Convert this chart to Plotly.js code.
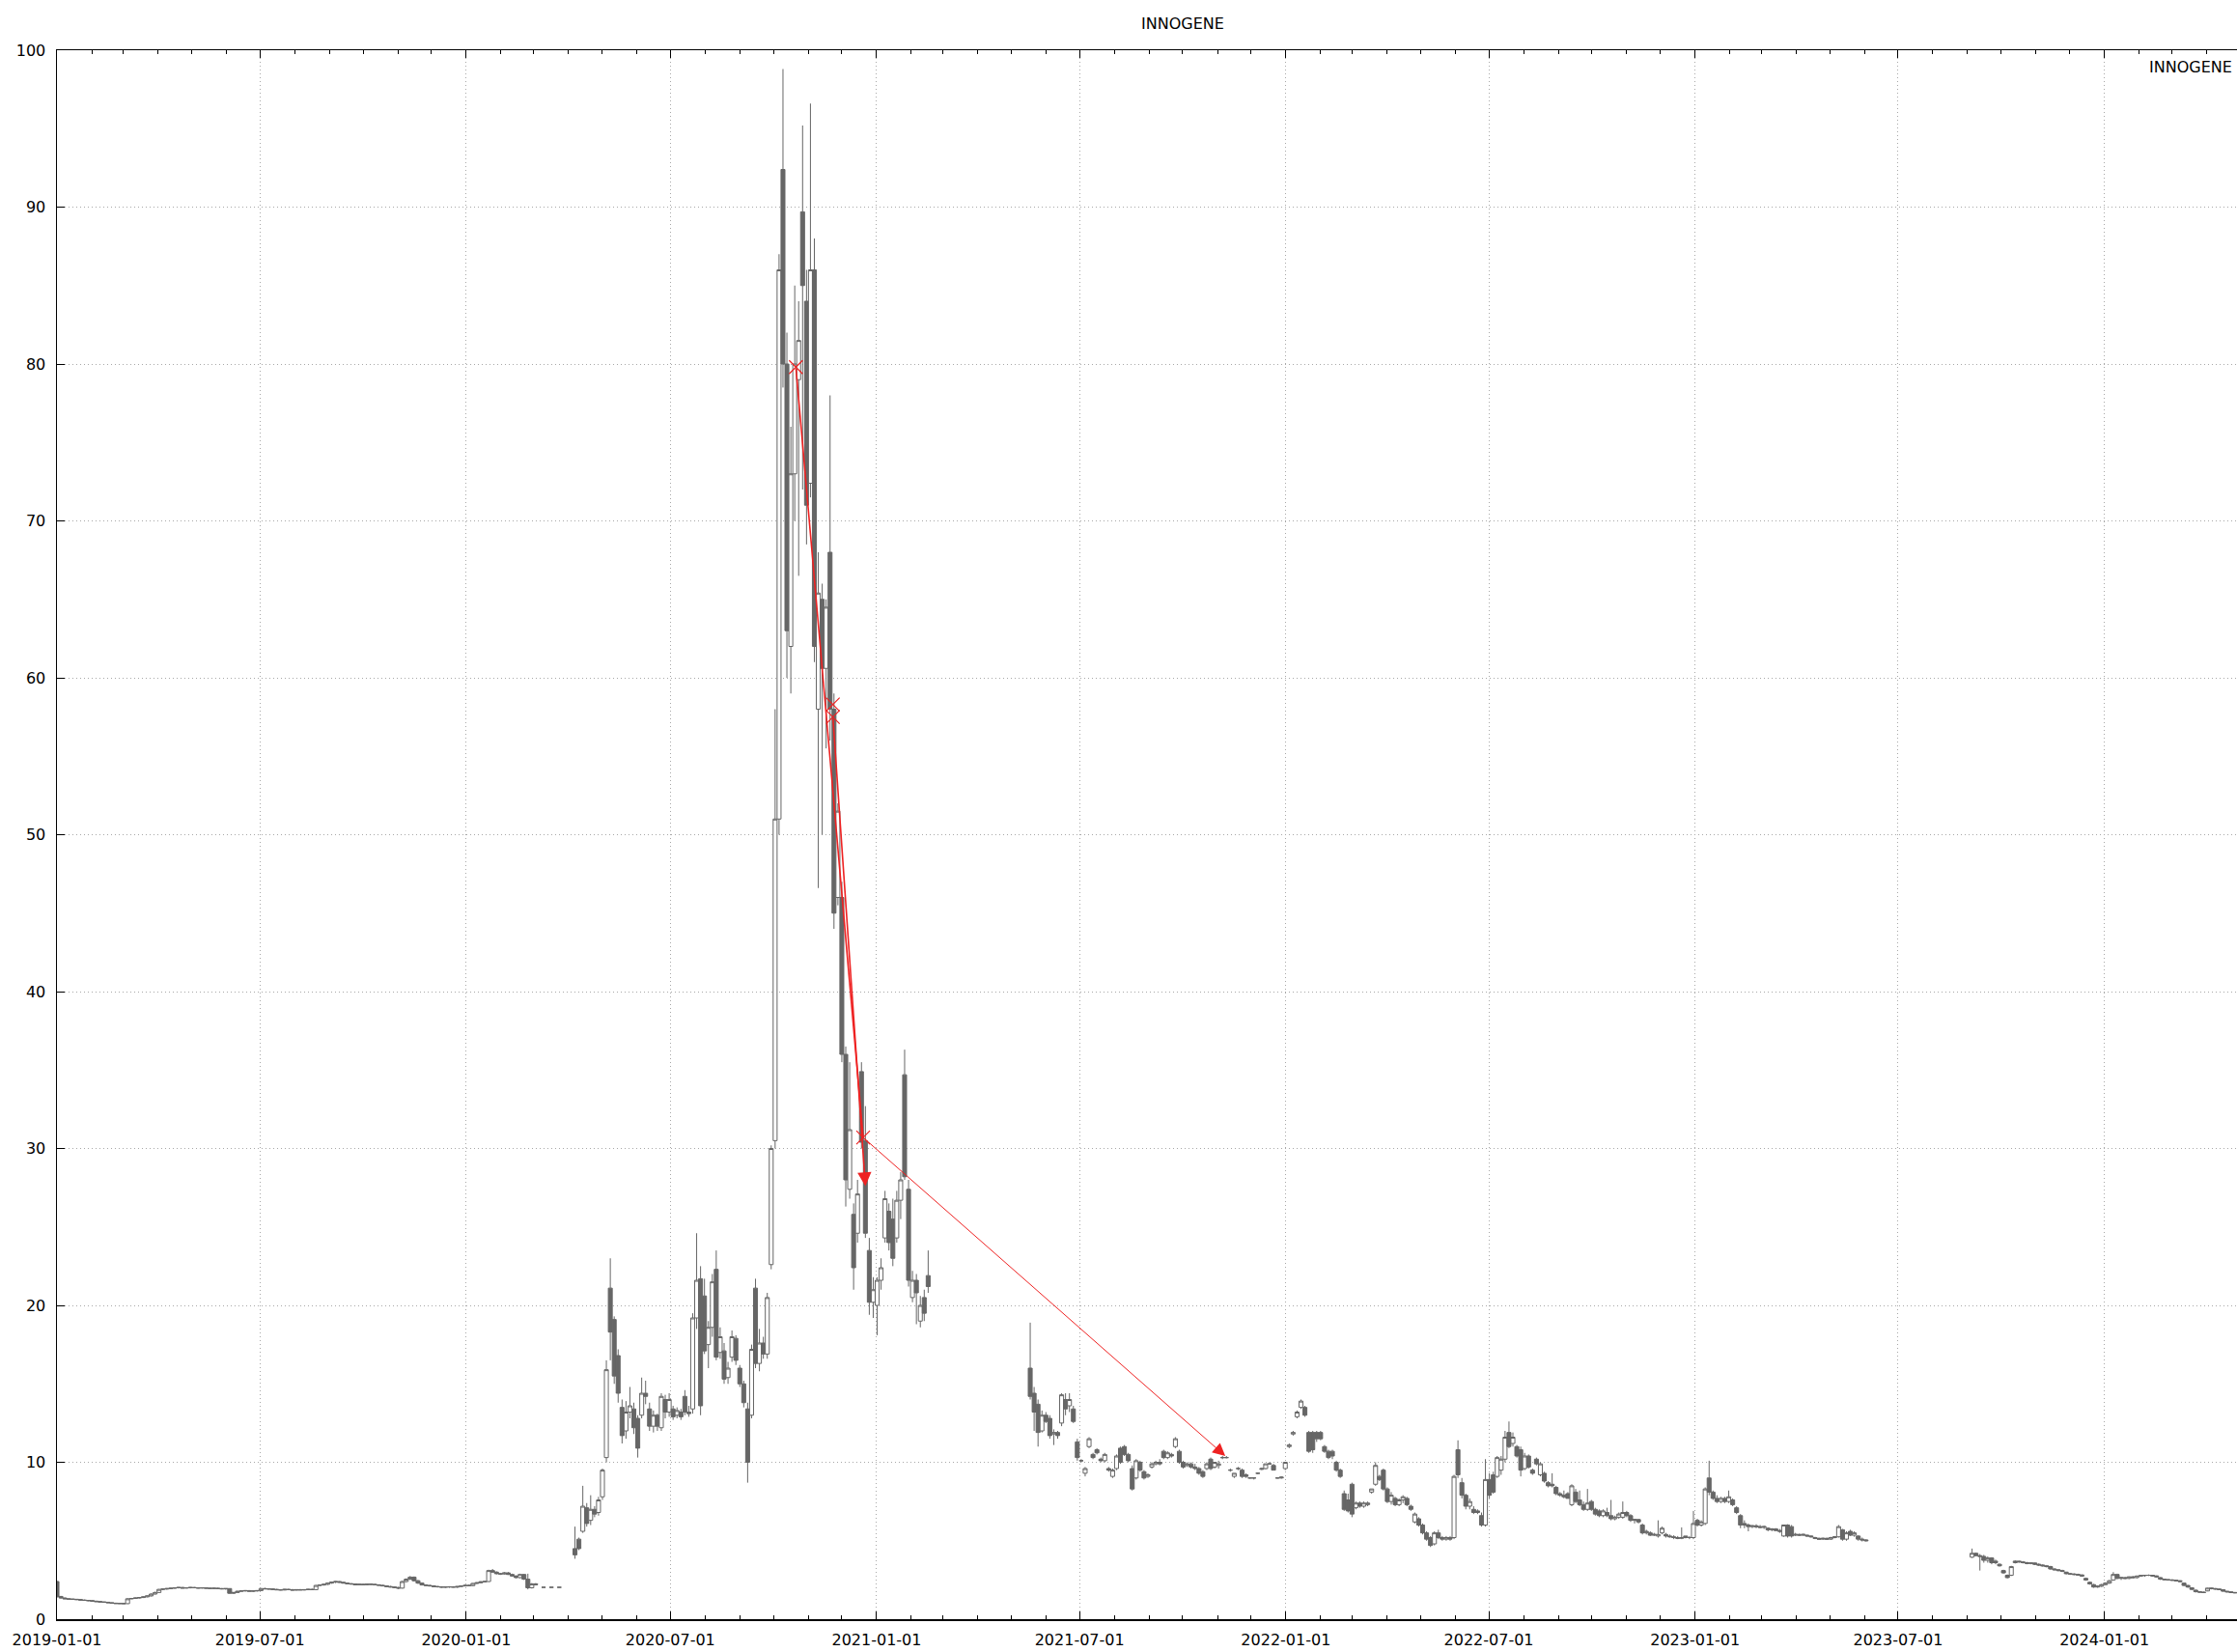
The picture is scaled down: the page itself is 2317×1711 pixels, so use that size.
<!DOCTYPE html>
<html>
<head>
<meta charset="utf-8">
<script src="https://cdn.plot.ly/plotly-3.0.1.min.js"></script>
<style>html,body{margin:0;padding:0;background:#fff;}#chart{width:2317px;height:1711px;}</style>
</head>
<body>
<div id="chart"></div>
<script>
// Half-week candles: [date, open, high, low, close]
const seg2019 = [
["2019-01-01",2.4,2.45,1.35,1.45],["2019-01-04 12:00",1.45,1.48,1.3,1.35],["2019-01-08",1.35,1.38,1.28,1.3],["2019-01-11 12:00",1.3,1.32,1.25,1.28],
["2019-01-15",1.28,1.3,1.24,1.27],["2019-01-18 12:00",1.27,1.29,1.22,1.25],["2019-01-22",1.25,1.27,1.2,1.22],["2019-01-25 12:00",1.22,1.25,1.18,1.2],
["2019-01-29",1.2,1.22,1.15,1.18],["2019-02-01 12:00",1.18,1.2,1.12,1.15],["2019-02-05",1.15,1.17,1.1,1.12],["2019-02-08 12:00",1.12,1.15,1.08,1.1],
["2019-02-12",1.1,1.12,1.05,1.08],["2019-02-15 12:00",1.08,1.1,1.03,1.05],["2019-02-19",1.05,1.07,1.0,1.02],["2019-02-22 12:00",1.02,1.05,0.98,1.0],
["2019-02-26",1.0,1.03,0.97,1.0],["2019-03-01 12:00",1.0,1.02,0.97,0.99],["2019-03-05",0.99,1.35,0.97,1.3],["2019-03-08 12:00",1.3,1.35,1.27,1.32],
["2019-03-12",1.32,1.38,1.3,1.35],["2019-03-15 12:00",1.35,1.4,1.32,1.38],["2019-03-19",1.38,1.45,1.35,1.42],["2019-03-22 12:00",1.42,1.5,1.4,1.48],
["2019-03-26",1.48,1.65,1.45,1.6],["2019-03-29 12:00",1.6,1.75,1.58,1.7],["2019-04-02",1.7,1.92,1.68,1.9],["2019-04-05 12:00",1.9,1.95,1.85,1.92],
["2019-04-09",1.92,1.98,1.88,1.95],["2019-04-12 12:00",1.95,2.0,1.92,1.97],["2019-04-16",1.97,2.02,1.94,2.0],["2019-04-19 12:00",2.0,2.05,1.96,2.02],
["2019-04-23",2.02,2.05,1.96,1.98],["2019-04-26 12:00",1.98,2.02,1.95,2.0],["2019-04-30",2.0,2.05,1.96,2.02],["2019-05-03 12:00",2.02,2.05,1.97,2.0],
["2019-05-07",2.0,2.03,1.96,1.98],["2019-05-10 12:00",1.98,2.02,1.95,2.0],["2019-05-14",2.0,2.02,1.95,1.97],["2019-05-17 12:00",1.97,2.0,1.94,1.96],
["2019-05-21",1.96,2.0,1.93,1.97],["2019-05-24 12:00",1.97,2.0,1.93,1.95],["2019-05-28",1.95,1.98,1.9,1.93],["2019-05-31 12:00",1.93,1.96,1.88,1.95],
["2019-06-04",1.95,1.97,1.62,1.65],["2019-06-07 12:00",1.65,1.72,1.6,1.7],["2019-06-11",1.7,1.8,1.68,1.78],["2019-06-14 12:00",1.78,1.82,1.74,1.8],
["2019-06-18",1.8,1.85,1.76,1.82],["2019-06-21 12:00",1.82,1.85,1.76,1.78],["2019-06-25",1.78,1.82,1.74,1.8],["2019-06-28 12:00",1.8,1.84,1.76,1.82],
["2019-07-02",1.82,1.98,1.8,1.95],["2019-07-05 12:00",1.95,2.0,1.9,1.93],["2019-07-09",1.93,1.97,1.89,1.92],["2019-07-12 12:00",1.92,1.95,1.88,1.9],
["2019-07-16",1.9,1.93,1.85,1.87],["2019-07-19 12:00",1.87,1.9,1.83,1.86],["2019-07-23",1.86,1.92,1.84,1.9],["2019-07-26 12:00",1.9,1.94,1.86,1.88],
["2019-07-30",1.88,1.92,1.83,1.85],["2019-08-02 12:00",1.85,1.9,1.82,1.88],["2019-08-06",1.88,1.92,1.84,1.86],["2019-08-09 12:00",1.86,1.9,1.83,1.88],
["2019-08-13",1.88,1.93,1.85,1.9],["2019-08-16 12:00",1.9,1.95,1.86,1.88],["2019-08-20",1.88,2.18,1.86,2.15],["2019-08-23 12:00",2.15,2.2,2.1,2.18],
["2019-08-27",2.18,2.25,2.14,2.22],["2019-08-30 12:00",2.22,2.32,2.18,2.3],["2019-09-03",2.3,2.4,2.26,2.36],["2019-09-06 12:00",2.36,2.42,2.3,2.4],
["2019-09-10",2.4,2.42,2.32,2.35],["2019-09-13 12:00",2.35,2.38,2.28,2.3],["2019-09-17",2.3,2.34,2.24,2.26],["2019-09-20 12:00",2.26,2.3,2.2,2.24],
["2019-09-24",2.24,2.28,2.18,2.2],["2019-09-27 12:00",2.2,2.26,2.16,2.22],["2019-10-01",2.22,2.26,2.17,2.2],["2019-10-04 12:00",2.2,2.25,2.16,2.23],
["2019-10-08",2.23,2.27,2.18,2.22],["2019-10-11 12:00",2.22,2.26,2.16,2.19],["2019-10-15",2.19,2.22,2.14,2.16],["2019-10-18 12:00",2.16,2.2,2.1,2.12],
["2019-10-22",2.12,2.15,2.06,2.08],["2019-10-25 12:00",2.08,2.12,2.02,2.05],["2019-10-29",2.05,2.08,1.98,2.02],["2019-11-01 12:00",2.02,2.06,1.92,1.98],
["2019-11-05",1.98,2.45,1.95,2.4],["2019-11-08 12:00",2.4,2.6,2.35,2.55],["2019-11-12",2.55,2.75,2.5,2.68],["2019-11-15 12:00",2.68,2.72,2.4,2.45],
["2019-11-19",2.45,2.5,2.25,2.3],["2019-11-22 12:00",2.3,2.34,2.15,2.18],["2019-11-26",2.18,2.22,2.1,2.15],["2019-11-29 12:00",2.15,2.2,2.08,2.12],
["2019-12-03",2.12,2.16,2.05,2.08],["2019-12-06 12:00",2.08,2.12,2.02,2.06],["2019-12-10",2.06,2.1,2.0,2.04],["2019-12-13 12:00",2.04,2.08,2.0,2.05],
["2019-12-17",2.05,2.1,2.0,2.06],["2019-12-20 12:00",2.06,2.1,2.02,2.04],["2019-12-24",2.04,2.1,2.0,2.08],["2019-12-27 12:00",2.08,2.15,2.04,2.12],
["2019-12-31",2.12,2.2,2.08,2.15],["2020-01-03 12:00",2.15,2.2,2.1,2.14],["2020-01-07",2.14,2.3,2.1,2.28],["2020-01-10 12:00",2.28,2.36,2.24,2.32],
["2020-01-14",2.32,2.42,2.28,2.38],["2020-01-17 12:00",2.38,2.45,2.34,2.4],["2020-01-21",2.4,3.15,2.38,3.1],["2020-01-24 12:00",3.1,3.2,2.95,3.0],
["2020-01-28",3.0,3.05,2.85,2.9],["2020-01-31 12:00",2.9,2.95,2.82,2.88],["2020-02-04",2.88,3.0,2.84,2.95],["2020-02-07 12:00",2.95,3.0,2.82,2.85],
["2020-02-11",2.85,2.9,2.72,2.75],["2020-02-14 12:00",2.75,2.8,2.6,2.65],["2020-02-18",2.65,2.9,2.6,2.85],["2020-02-21 12:00",2.85,2.88,2.5,2.55],
["2020-02-25",2.55,2.9,1.9,2.0],["2020-02-28 12:00",2.0,2.3,1.95,2.25],["2020-03-03",2.25,2.3,2.15,2.2],
["2020-03-10",2.03,2.03,2.03,2.03],["2020-03-17",2.03,2.03,2.03,2.03],["2020-03-24",2.03,2.03,2.03,2.03]
];

const seg2020 = [
["2020-04-07",4.5,5.9,3.85,4.1],["2020-04-10 12:00",5.1,5.2,4.4,4.5],["2020-04-14",5.6,8.5,5.5,7.2],["2020-04-17 12:00",7.1,7.4,5.9,6.1],
["2020-04-21",6.3,7.9,6.0,7.0],["2020-04-24 12:00",7.0,7.2,6.5,6.7],["2020-04-28",6.8,7.8,6.6,7.6],["2020-05-01 12:00",7.8,9.6,7.6,9.5],
["2020-05-05",10.3,16.5,10.0,15.9],["2020-05-08 12:00",21.1,23.0,16.5,18.3],["2020-05-12",19.1,19.3,15.0,15.5],["2020-05-15 12:00",16.8,17.2,13.8,14.4],
["2020-05-19",13.5,14.0,11.2,11.7],["2020-05-22 12:00",12.0,13.9,11.5,13.2],["2020-05-26",13.2,14.8,12.8,13.6],["2020-05-29 12:00",13.4,13.8,11.8,12.2],
["2020-06-02",12.8,13.0,10.3,10.9],["2020-06-05 12:00",13.0,15.4,12.8,14.4],["2020-06-09",14.4,15.2,13.7,14.2],["2020-06-12 12:00",13.4,13.8,12.0,12.3],
["2020-06-16",12.3,13.3,11.9,13.0],["2020-06-19 12:00",13.0,13.1,12.0,12.3],["2020-06-23",12.2,14.4,12.0,14.2],["2020-06-26 12:00",14.0,14.3,12.8,13.2],
["2020-06-30",13.2,14.4,12.9,14.0],["2020-07-03 12:00",13.4,13.6,12.7,12.9],["2020-07-07",13.0,13.5,12.8,13.3],["2020-07-10 12:00",13.2,13.4,12.7,12.9],
["2020-07-14",14.2,14.6,13.0,13.2],["2020-07-17 12:00",13.2,13.6,12.9,13.1],["2020-07-21",13.4,19.5,13.1,19.2],["2020-07-24 12:00",19.2,24.6,18.5,21.6],
["2020-07-28",21.7,22.5,13.0,13.6],["2020-07-31 12:00",20.6,21.7,16.9,17.1],["2020-08-04",17.5,19.0,16.0,18.6],["2020-08-07 12:00",18.6,22.0,18.0,21.5],
["2020-08-11",22.3,23.5,16.5,16.7],["2020-08-14 12:00",17.0,18.6,16.6,18.0],["2020-08-18",17.1,17.6,15.0,15.3],["2020-08-21 12:00",15.4,16.4,15.0,16.0],
["2020-08-25",16.7,18.4,16.4,18.0],["2020-08-28 12:00",17.9,18.1,16.2,16.5],["2020-09-01",16.0,16.2,14.8,15.0],["2020-09-04 12:00",15.0,15.2,13.5,13.8],
["2020-09-08",13.4,13.8,8.7,10.0],["2020-09-11 12:00",13.0,17.5,12.8,17.2],["2020-09-15",21.1,21.7,16.0,16.3],["2020-09-18 12:00",16.3,18.5,15.8,17.6],
["2020-09-22",17.6,18.0,16.6,16.9],["2020-09-25 12:00",16.9,20.8,16.6,20.5],["2020-09-29",22.6,30.2,22.3,30.0]
];

const segPeak = [
["2020-10-02 12:00",30.5,58,30,51],["2020-10-06",51,87,50,86],["2020-10-09 12:00",92.4,98.8,78.5,80],["2020-10-13",80,82,60,63],
["2020-10-16 12:00",62,76,59,73],["2020-10-20",73,85,70,80],["2020-10-23 12:00",79,84,66.5,81.5],["2020-10-27",89.7,95.2,72,85],
["2020-10-30 12:00",84,86,68.5,71],["2020-11-03",72.4,96.6,71.5,86],["2020-11-06 12:00",86,88,61,62],["2020-11-10",58,68,46.6,65.4],
["2020-11-13 12:00",65,66,50,60.6],["2020-11-17",60.6,65,55.5,64.5],["2020-11-20 12:00",68,78,56,58],["2020-11-24",58,59,44,45],
["2020-11-27 12:00",46,52,45.5,51.5],["2020-12-01",46,47,35.5,36],["2020-12-04 12:00",36,36.5,26.3,28],["2020-12-08",27.4,35.5,26.8,31.2],
["2020-12-11 12:00",25.8,26.5,21,22.4],["2020-12-15",24.6,28,24,27.1],["2020-12-18 12:00",34.9,35.5,30,30.4],["2020-12-22",30.5,32.7,24.3,24.6],
["2020-12-25 12:00",23.5,24.3,19.4,20.2],["2020-12-29",20.2,21.8,19.2,21],["2021-01-01 12:00",20,21.8,18.1,21.6],["2021-01-05",21.6,23,21,22.4],
["2021-01-08 12:00",24.3,27.3,24,26.8],["2021-01-12",26,26.5,23.5,24],["2021-01-15 12:00",25.5,26.8,22.5,23],["2021-01-19",24.3,27.3,24,26.7],
["2021-01-22 12:00",26.7,28.5,25.5,28],["2021-01-26",34.7,36.3,28,28.2],["2021-01-29 12:00",27.4,28,21.2,21.6],["2021-02-02",20.5,22.2,20.2,21.6],
["2021-02-05 12:00",21.6,22,18.8,20.8],["2021-02-09",19,20.6,18.6,20],["2021-02-12 12:00",20.5,21,19,19.5],["2021-02-16",21.9,23.5,20.8,21.2]
];

const seg2021 = [
["2021-05-18",16.0,18.9,14.0,14.2],["2021-05-21 12:00",14.4,14.8,12.0,13.2],["2021-05-25",13.7,14.0,11.0,11.9],["2021-05-28 12:00",12.0,13.3,11.9,13.0],
["2021-06-01",13.0,13.2,12.5,12.6],["2021-06-04 12:00",12.8,13.0,11.5,11.7],["2021-06-08",11.8,12.1,11.1,11.9],["2021-06-11 12:00",11.9,12.0,11.5,11.7],
["2021-06-15",12.5,14.4,12.3,14.3],["2021-06-18 12:00",14.0,14.4,13.0,13.4],["2021-06-22",13.6,14.4,13.2,14.0],["2021-06-25 12:00",13.4,13.6,12.5,12.6],
["2021-06-29",11.3,11.5,10.1,10.3],["2021-07-02 12:00",10.1,10.2,10.0,10.1],["2021-07-06",9.3,9.7,9.1,9.6],["2021-07-09 12:00",11.0,11.6,10.9,11.5],
["2021-07-13",10.5,10.6,10.2,10.3],["2021-07-16 12:00",10.8,10.9,10.5,10.6],["2021-07-20",10.2,10.3,10.0,10.1],["2021-07-23 12:00",10.1,10.6,10.0,10.5],
["2021-07-27",9.6,9.7,9.4,9.5],["2021-07-30 12:00",9.1,9.6,9.0,9.5],["2021-08-03",9.6,10.5,9.5,10.4],["2021-08-06 12:00",10.9,11.0,9.9,10.0],
["2021-08-10",11.0,11.1,10.4,10.5],["2021-08-13 12:00",10.5,10.6,10.0,10.1],["2021-08-17",9.6,9.8,8.2,8.3],["2021-08-20 12:00",9.0,10.2,8.9,10.1],
["2021-08-24",10.0,10.1,9.4,9.5],["2021-08-27 12:00",9.4,9.5,8.9,9.0],["2021-08-31",9.1,9.3,9.0,9.2],["2021-09-03 12:00",9.7,10.0,9.6,9.9],
["2021-09-07",9.9,10.1,9.8,10.0],["2021-09-10 12:00",10.0,10.2,9.8,9.9],["2021-09-14",10.7,10.8,10.2,10.3],["2021-09-17 12:00",10.3,10.7,10.2,10.6],
["2021-09-21",10.5,10.6,10.3,10.4],["2021-09-24 12:00",11.0,11.6,10.9,11.5],["2021-09-28",10.7,10.8,9.9,10.0],["2021-10-01 12:00",10.0,10.1,9.6,9.7],
["2021-10-05",9.8,10.0,9.7,9.9],["2021-10-08 12:00",9.9,10.0,9.6,9.7],["2021-10-12",9.7,9.9,9.5,9.6],["2021-10-15 12:00",9.6,9.7,9.2,9.3],
["2021-10-19",9.4,9.5,9.0,9.1],["2021-10-22 12:00",9.6,10.0,9.5,9.9],["2021-10-26",10.2,10.3,9.5,9.6],["2021-10-29 12:00",9.7,10.0,9.6,10.0],
["2021-11-02",9.8,10.1,9.6,9.9],["2021-11-05 12:00",10.3,10.4,10.2,10.3],["2021-11-09",10.3,10.4,10.25,10.3],["2021-11-12 12:00",9.5,9.6,9.4,9.5],
["2021-11-16",9.1,9.3,9.0,9.3],["2021-11-19 12:00",9.6,9.7,9.5,9.6],["2021-11-23",9.5,9.6,9.0,9.1],["2021-11-26 12:00",9.2,9.3,9.0,9.1],
["2021-11-30",9.0,9.05,8.95,9.0],["2021-12-03 12:00",9.0,9.05,8.9,9.0],["2021-12-07",9.3,9.35,9.25,9.3],["2021-12-10 12:00",9.55,9.65,9.5,9.6],
["2021-12-14",9.6,9.9,9.55,9.9],["2021-12-17 12:00",9.9,10.0,9.85,9.9],["2021-12-21",9.8,9.9,9.5,9.5],["2021-12-24 12:00",9.0,9.05,8.95,9.0],
["2021-12-28",9.0,9.1,8.95,9.05],["2021-12-31 12:00",9.6,10.0,9.5,10.0]
];

const seg2022 = [
["2022-01-04",11.0,11.2,10.9,11.1],["2022-01-07 12:00",11.8,12.0,11.7,11.9],["2022-01-11",12.9,13.3,12.8,13.2],["2022-01-14 12:00",13.5,14.0,13.4,13.9],
["2022-01-18",13.5,13.6,12.9,13.0],["2022-01-21 12:00",11.9,12.0,10.6,10.7],["2022-01-25",11.9,12.0,10.6,10.8],["2022-01-28 12:00",11.9,12.0,11.3,11.5],
["2022-02-01",11.9,12.0,11.4,11.5],["2022-02-04 12:00",11.0,11.1,10.6,10.7],["2022-02-08",10.7,10.8,10.2,10.3],["2022-02-11 12:00",10.7,10.8,10.2,10.4],
["2022-02-15",10.0,10.1,9.4,9.5],["2022-02-18 12:00",9.5,9.6,9.0,9.1],["2022-02-22",8.0,8.2,6.9,7.0],["2022-02-25 12:00",7.6,8.0,6.8,6.9],
["2022-03-01",8.6,8.7,6.5,6.7],["2022-03-04 12:00",7.1,7.5,7.0,7.4],["2022-03-08",7.4,7.5,7.1,7.2],["2022-03-11 12:00",7.2,7.5,7.1,7.4],
["2022-03-15",7.3,7.5,7.2,7.4],["2022-03-18 12:00",8.1,8.3,8.0,8.3],["2022-03-22",8.6,10.0,8.5,9.8],["2022-03-25 12:00",9.1,9.2,8.8,8.9],
["2022-03-29",9.5,9.6,8.2,8.3],["2022-04-01 12:00",8.3,8.4,7.4,7.5],["2022-04-05",7.5,8.1,7.3,7.9],["2022-04-08 12:00",7.7,7.8,7.2,7.3],
["2022-04-12",7.3,7.7,7.2,7.6],["2022-04-15 12:00",7.6,7.9,7.4,7.8],["2022-04-19",7.7,7.8,7.2,7.3],["2022-04-22 12:00",7.2,7.3,6.9,7.0],
["2022-04-26",6.2,6.8,6.1,6.7],["2022-04-29 12:00",6.4,6.5,5.9,6.0],["2022-05-03",6.0,6.1,5.4,5.5],["2022-05-06 12:00",5.5,5.6,5.0,5.1],
["2022-05-10",5.2,5.3,4.6,4.7],["2022-05-13 12:00",4.8,5.6,4.7,5.5],["2022-05-17",5.5,5.7,5.1,5.2],["2022-05-20 12:00",5.2,5.3,5.0,5.1],
["2022-05-24",5.1,5.3,5.0,5.2],["2022-05-27 12:00",5.2,5.3,5.0,5.1],["2022-05-31",5.2,9.2,5.1,9.1],["2022-06-03 12:00",10.8,11.4,9.0,9.2],
["2022-06-07",8.7,9.0,7.7,7.9],["2022-06-10 12:00",7.9,8.0,7.0,7.2],["2022-06-14",7.2,7.7,7.0,7.5],["2022-06-17 12:00",7.0,7.2,6.7,6.8],
["2022-06-21",6.9,7.0,6.7,6.8],["2022-06-24 12:00",6.6,6.8,5.9,6.0],["2022-06-28",6.0,10.2,5.9,8.9],["2022-07-01 12:00",8.9,9.3,7.7,7.9],
["2022-07-05",9.2,9.4,8.0,8.1],["2022-07-08 12:00",9.1,10.4,9.0,10.3],["2022-07-12",9.5,10.4,9.2,10.2],["2022-07-15 12:00",10.2,12.0,10.0,11.6],
["2022-07-19",11.9,12.6,10.9,11.0],["2022-07-22 12:00",11.2,11.9,11.0,11.6],["2022-07-26",11.0,11.1,10.3,10.4],["2022-07-29 12:00",10.8,11.0,9.1,9.5],
["2022-08-02",9.6,10.6,9.5,10.4],["2022-08-05 12:00",10.4,10.5,9.6,9.7],["2022-08-09",9.5,9.6,9.2,9.3],["2022-08-12 12:00",10.2,10.3,9.8,9.9],
["2022-08-16",9.2,10.0,9.1,9.9],["2022-08-19 12:00",9.3,9.4,8.7,8.8],["2022-08-23",8.7,8.8,8.4,8.5],["2022-08-26 12:00",8.6,9.3,8.4,8.5],
["2022-08-30",8.4,8.5,7.9,8.0],["2022-09-02 12:00",8.0,8.1,7.8,7.9],["2022-09-06",7.9,8.2,7.7,7.8],["2022-09-09 12:00",8.0,8.1,7.7,7.7],
["2022-09-13",7.3,8.6,7.2,8.5],["2022-09-16 12:00",8.1,8.3,7.4,7.5],["2022-09-20",7.6,8.2,7.2,7.3],["2022-09-23 12:00",7.3,7.5,6.9,7.0],
["2022-09-27",7.0,8.3,6.9,7.4],["2022-09-30 12:00",7.5,7.6,6.9,7.0],["2022-10-04",7.0,7.1,6.6,6.7],["2022-10-07 12:00",6.9,7.0,6.5,6.6],
["2022-10-11",6.6,7.0,6.5,6.9],["2022-10-14 12:00",6.8,7.1,6.5,6.6],["2022-10-18",6.6,7.6,6.3,6.4],["2022-10-21 12:00",6.4,6.6,6.3,6.5],
["2022-10-25",6.5,6.8,6.4,6.7],["2022-10-28 12:00",6.5,7.5,6.4,6.8],["2022-11-01",6.8,6.9,6.5,6.6],["2022-11-04 12:00",6.6,6.7,6.2,6.3],
["2022-11-08",6.3,6.4,6.1,6.35],["2022-11-11 12:00",6.35,6.4,6.1,6.2],["2022-11-15",6.0,6.1,5.4,5.5],["2022-11-18 12:00",5.5,5.7,5.4,5.6],
["2022-11-22",5.5,5.6,5.3,5.35],["2022-11-25 12:00",5.35,5.5,5.3,5.4],["2022-11-29",5.3,6.3,5.2,5.4],["2022-12-02 12:00",5.5,5.9,5.4,5.8],
["2022-12-06",5.4,5.5,5.2,5.3],["2022-12-09 12:00",5.3,5.4,5.2,5.25],["2022-12-13",5.25,5.35,5.1,5.2],["2022-12-16 12:00",5.2,5.3,5.1,5.15],
["2022-12-20",5.15,5.85,5.1,5.2],["2022-12-23 12:00",5.2,5.3,5.15,5.3],["2022-12-27",5.2,5.3,5.1,5.2],["2022-12-30 12:00",5.2,6.9,5.1,6.1]
];

const seg2023 = [
["2023-01-03",6.3,6.4,5.9,6.0],["2023-01-06 12:00",6.0,6.3,5.9,6.2],["2023-01-10",6.1,8.4,6.0,8.3],["2023-01-13 12:00",9.0,10.1,7.9,8.1],
["2023-01-17",8.1,8.2,7.6,7.7],["2023-01-20 12:00",7.7,7.9,7.4,7.5],["2023-01-24",7.5,7.8,7.4,7.7],["2023-01-27 12:00",7.7,7.8,7.4,7.5],
["2023-01-31",7.5,8.2,7.4,7.8],["2023-02-03 12:00",7.6,7.7,7.2,7.3],["2023-02-07",7.1,7.2,6.7,6.8],["2023-02-10 12:00",6.6,6.7,5.8,6.0],
["2023-02-14",6.0,6.3,5.8,6.1],["2023-02-17 12:00",6.0,6.1,5.6,5.9],["2023-02-21",5.9,6.0,5.8,5.95],["2023-02-24 12:00",5.95,6.05,5.8,5.9],
["2023-02-28",5.9,6.0,5.8,5.85],["2023-03-03 12:00",5.85,5.95,5.75,5.9],["2023-03-07",5.8,5.85,5.6,5.7],["2023-03-10 12:00",5.7,5.8,5.6,5.75],
["2023-03-14",5.75,5.8,5.6,5.65],["2023-03-17 12:00",5.65,5.75,5.5,5.6],["2023-03-21",5.3,6.0,5.25,6.0],["2023-03-24 12:00",6.0,6.05,5.2,5.3],
["2023-03-28",5.9,6.0,5.2,5.3],["2023-03-31 12:00",5.35,5.5,5.3,5.4],["2023-04-04",5.4,5.45,5.3,5.35],["2023-04-07 12:00",5.35,5.45,5.3,5.4],
["2023-04-11",5.35,5.4,5.25,5.3],["2023-04-14 12:00",5.3,5.35,5.2,5.25],["2023-04-18",5.2,5.25,5.1,5.15],["2023-04-21 12:00",5.15,5.2,5.05,5.1],
["2023-04-25",5.1,5.2,5.05,5.15],["2023-04-28 12:00",5.15,5.2,5.05,5.1],["2023-05-02",5.1,5.25,5.05,5.2],["2023-05-05 12:00",5.2,5.3,5.15,5.25],
["2023-05-09",5.25,6.0,5.2,5.9],["2023-05-12 12:00",5.7,5.75,5.0,5.1],["2023-05-16",5.1,5.6,5.0,5.5],["2023-05-19 12:00",5.6,5.7,5.3,5.35],
["2023-05-23",5.35,5.6,5.25,5.5],["2023-05-26 12:00",5.3,5.35,5.0,5.1],["2023-05-30",5.1,5.2,4.95,5.05],["2023-06-02 12:00",5.05,5.1,4.95,5.0]
];

const seg2024 = [
["2023-09-05",3.95,4.5,3.9,4.2],["2023-09-08 12:00",4.2,4.25,4.0,4.05],["2023-09-12",4.05,4.15,3.1,4.0],["2023-09-15 12:00",4.0,4.1,3.6,3.75],
["2023-09-19",3.75,4.0,3.6,3.9],["2023-09-22 12:00",3.9,3.95,3.5,3.6],["2023-09-26",3.6,3.8,3.5,3.7],["2023-09-29 12:00",3.5,3.55,3.35,3.4],
["2023-10-03",3.1,3.15,2.9,2.95],["2023-10-06 12:00",2.8,2.85,2.6,2.65],["2023-10-10",2.8,3.4,2.75,3.35],["2023-10-13 12:00",3.6,3.75,3.55,3.7],
["2023-10-17",3.7,3.72,3.6,3.65],["2023-10-20 12:00",3.65,3.7,3.55,3.6],["2023-10-24",3.6,3.65,3.5,3.55],["2023-10-27 12:00",3.55,3.6,3.5,3.58],
["2023-10-31",3.58,3.6,3.45,3.5],["2023-11-03 12:00",3.5,3.55,3.4,3.45],["2023-11-07",3.45,3.5,3.35,3.4],["2023-11-10 12:00",3.4,3.45,3.3,3.35],
["2023-11-14",3.35,3.4,3.15,3.2],["2023-11-17 12:00",3.2,3.25,3.1,3.15],["2023-11-21",3.15,3.2,3.05,3.1],["2023-11-24 12:00",3.1,3.15,3.0,3.05],
["2023-11-28",3.0,3.02,2.85,2.9],["2023-12-01 12:00",2.9,2.95,2.82,2.88],["2023-12-05",2.88,2.92,2.8,2.85],["2023-12-08 12:00",2.85,2.9,2.78,2.82],
["2023-12-12",2.82,2.85,2.7,2.75],["2023-12-15 12:00",2.6,2.65,2.45,2.5],["2023-12-19",2.35,2.4,2.2,2.25],["2023-12-22 12:00",2.2,2.25,2.0,2.05],
["2023-12-26",2.05,2.15,2.0,2.1],["2023-12-29 12:00",2.1,2.25,2.05,2.2],["2024-01-02",2.2,2.35,2.15,2.3],["2024-01-05 12:00",2.3,2.5,2.25,2.45],
["2024-01-09",2.5,3.0,2.45,2.85],["2024-01-12 12:00",2.85,2.9,2.55,2.6],["2024-01-16",2.6,2.7,2.5,2.65],["2024-01-19 12:00",2.65,2.7,2.55,2.6],
["2024-01-23",2.6,2.72,2.55,2.7],["2024-01-26 12:00",2.7,2.75,2.6,2.65],["2024-01-30",2.65,2.78,2.6,2.75],["2024-02-02 12:00",2.75,2.8,2.7,2.78],
["2024-02-06",2.78,2.82,2.7,2.8],["2024-02-09 12:00",2.8,2.85,2.75,2.8],["2024-02-13",2.8,2.82,2.72,2.76],["2024-02-16 12:00",2.76,2.78,2.65,2.7],
["2024-02-20",2.65,2.68,2.5,2.55],["2024-02-23 12:00",2.55,2.58,2.48,2.52],["2024-02-27",2.52,2.56,2.46,2.5],["2024-03-01 12:00",2.5,2.55,2.44,2.48],
["2024-03-05",2.48,2.5,2.4,2.45],["2024-03-08 12:00",2.45,2.48,2.35,2.4],["2024-03-12",2.3,2.32,2.1,2.15],["2024-03-15 12:00",2.15,2.18,2.0,2.05],
["2024-03-19",2.0,2.02,1.85,1.9],["2024-03-22 12:00",1.85,1.88,1.7,1.75],["2024-03-26",1.75,1.78,1.68,1.72],["2024-03-29 12:00",1.72,1.75,1.66,1.7],
["2024-04-02",1.8,2.0,1.78,1.98],["2024-04-05 12:00",1.98,2.0,1.9,1.95],["2024-04-09",1.95,1.98,1.88,1.92],["2024-04-12 12:00",1.92,1.95,1.85,1.88],
["2024-04-16",1.88,1.9,1.75,1.78],["2024-04-19 12:00",1.78,1.8,1.7,1.74],["2024-04-23",1.74,1.77,1.66,1.7],["2024-04-26 12:00",1.7,1.73,1.65,1.68]
];

// Red trend annotation (cross markers and arrows)
const crossDates = ["2020-10-21","2020-11-23","2020-11-23","2020-12-20"];
const crossVals  = [79.8, 58.3, 57.5, 30.7];
const trendLines = [
  {from:["2020-10-21",79.8], to:["2020-12-20",30.7], head:0, w:1.6},
  {from:["2020-11-23",57.5], to:["2020-12-22",27.6], head:2, w:1.6},
  {from:["2020-12-20",30.7], to:["2021-11-08",10.4], head:2, w:1.0}
];
const seriesName = "INNOGENE";
const xTickStart = "2019-01-01";
const xRange = ["2019-01-01", "2024-04-28 07:00"];
const yRange = [0, 100];

const rows = [].concat(seg2019, seg2020, segPeak, seg2021, seg2022, seg2023, seg2024);

const candle = {
  type: 'candlestick',
  x: rows.map(r => r[0]), open: rows.map(r => r[1]), high: rows.map(r => r[2]),
  low: rows.map(r => r[3]), close: rows.map(r => r[4]),
  name: seriesName,
  increasing: {line: {color: '#666666', width: 1}, fillcolor: '#ffffff'},
  decreasing: {line: {color: '#666666', width: 1}, fillcolor: '#666666'},
  whiskerwidth: 0,
  hoverinfo: 'x+y'
};

const crosses = {
  type: 'scatter', mode: 'markers', x: crossDates, y: crossVals,
  marker: {symbol: 'x-thin-open', size: 14, color: '#ee2222', line: {color: '#ee2222', width: 1.2}},
  hoverinfo: 'skip', showlegend: false
};

const annotations = trendLines.map(t => ({
  x: t.to[0], y: t.to[1], xref: 'x', yref: 'y',
  ax: t.from[0], ay: t.from[1], axref: 'x', ayref: 'y',
  text: '', showarrow: true, arrowhead: t.head, arrowsize: t.head ? (t.w > 1.2 ? 1.8 : 2.6) : 1,
  arrowwidth: t.w, arrowcolor: '#ee2222', standoff: 0, startstandoff: 0
}));
annotations.push({
  xref: 'paper', yref: 'paper', x: 1, y: 0.9892, xanchor: 'right', yanchor: 'middle', xshift: -3,
  text: seriesName, showarrow: false, font: {family: 'DejaVu Sans', size: 16, color: '#000'}
});

const layout = {
  width: 2317, height: 1711,
  margin: {l: 59, r: 0, t: 52, b: 34, pad: 0},
  paper_bgcolor: '#ffffff', plot_bgcolor: '#ffffff',
  font: {family: 'DejaVu Sans', size: 16, color: '#000'},
  title: {text: seriesName, x: 0.5287, xref: 'container', xanchor: 'center',
          y: 0.986, yref: 'container', yanchor: 'middle', font: {family: 'DejaVu Sans', size: 16, color: '#000'}},
  showlegend: false,
  boxgap: 0, boxgroupgap: 0,
  xaxis: {
    type: 'date', range: xRange, tick0: xTickStart, dtick: 'M6', tickformat: '%Y-%m-%d',
    ticks: 'inside', ticklen: 8, tickwidth: 1, tickcolor: '#000', ticklabelstandoff: 6,
    showline: true, linecolor: '#000', linewidth: 1.5, mirror: 'ticks',
    showgrid: true, gridcolor: '#a8a8a8', gridwidth: 1, griddash: '1px,3px',
    zeroline: false, rangeslider: {visible: false}, fixedrange: true,
    minor: {dtick: 'M1', ticks: 'inside', ticklen: 4, tickwidth: 1, tickcolor: '#000', showgrid: false},
    tickfont: {family: 'DejaVu Sans', size: 16, color: '#000'}
  },
  yaxis: {
    range: yRange, dtick: 10, tick0: 0,
    ticks: 'inside', ticklen: 8, tickwidth: 1, tickcolor: '#000', ticklabelstandoff: 7,
    showline: true, linecolor: '#000', linewidth: 1.5,
    showgrid: true, gridcolor: '#a8a8a8', gridwidth: 1, griddash: '1px,3px',
    zeroline: false, fixedrange: true,
    tickfont: {family: 'DejaVu Sans', size: 16, color: '#000'}
  },
  annotations: annotations
};

Plotly.newPlot('chart', [candle, crosses], layout, {displayModeBar: false, staticPlot: true});
</script>
</body>
</html>
